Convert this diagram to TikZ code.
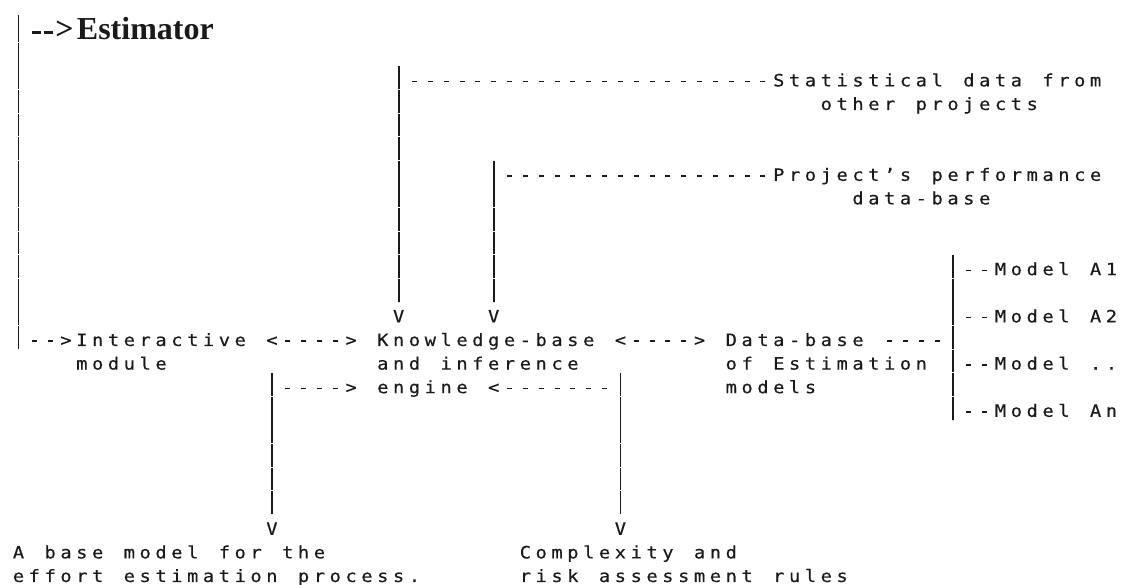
\documentclass[tikz,border=0pt]{standalone}
\usepackage{fontspec}
\usetikzlibrary{calc}
\newfontfamily\monoface{DejaVu Sans Mono}[FakeStretch=1.1,FakeBold=0.35]
\newfontfamily\headface{Liberation Serif}
\definecolor{ink}{HTML}{1A1A1A}
% one character cell of the text grid
\newlength\cw
\setlength\cw{15.84pt}
\ExplSyntaxOn
\NewDocumentCommand\gridtext{m}
  { \str_map_inline:nn {#1} { \makebox[\cw][c]{##1} } }
\ExplSyntaxOff
\NewDocumentCommand\tline{O{0}m}{\hbox{\hskip#1\cw\gridtext{#2}}}
\newcommand\stack[1]{\vtop{\baselineskip=23.6pt\lineskiplimit=-\maxdimen\lineskip=0pt#1}}
\begin{document}
\begin{tikzpicture}[x=15.84pt,y=-23.6pt,
  lbl/.style={anchor=base west,inner sep=0pt,outer sep=0pt,text=ink,
    font=\monoface\fontsize{17pt}{23.6pt}\selectfont},
  glyph/.style={anchor=base,inner sep=0pt,outer sep=0pt,text=ink,
    font=\monoface\fontsize{17pt}{23.6pt}\selectfont},
  headnode/.style={anchor=base west,inner sep=0pt,outer sep=0pt,text=ink,
    font=\headface\bfseries\fontsize{32pt}{32pt}\selectfont},
  pipe/.style={draw=ink,line width=1.7pt,dash pattern=on 22.8pt off 0.8pt},
  dashline/.style={draw=ink,line width=1.6pt,dash pattern=on 5pt off 10.84pt,dash phase=10.42pt},
  boldhyph/.style={draw=ink,line width=2.8pt,dash pattern=on 9pt off 3pt}]
\fill[white] (-1.1679,-14.661) rectangle (69.666,10.127);
\useasboundingbox (-1.1679,-14.661) rectangle (69.666,10.127);

% labels
\node[headnode] (est) at (3.69,-12.966) {Estimator};
\node[headnode] (gE) at ($(est.base west)+(-21.5pt,0)$) {>};
\node[lbl] (int) at (3.5,0) {\stack{\tline{Interactive}\tline{module}}};
\node[lbl] (kb) at (22.5,0) {\stack{\tline{Knowledge-base}\tline{and inference}\tline{engine}}};
\node[lbl] (db) at (44.5,0) {\stack{\tline{Data-base}\tline{of Estimation}\tline{models}}};
\node[lbl] (stat) at (47.5,-11) {\stack{\tline{Statistical data from}\tline[3]{other projects}}};
\node[lbl] (proj) at (47.5,-7) {\stack{\tline{Project’s performance}\tline[5]{data-base}}};
\node[lbl] (mA1) at (61.5,-3) {\gridtext{Model A1}};
\node[lbl] (mA2) at (61.5,-1) {\gridtext{Model A2}};
\node[lbl] (mAx) at (61.5,1) {\gridtext{Model ..}};
\node[lbl] (mAn) at (61.5,3) {\gridtext{Model An}};
\node[lbl] (base) at (-0.5,9) {\stack{\tline{A base model for the}\tline{effort estimation process.}}};
\node[lbl] (cplx) at (31.5,9) {\stack{\tline{Complexity and}\tline{risk assessment rules}}};

% arrow heads
\node[glyph] (gI) at (3,0) {>};
\node[glyph] (l1) at (16,0) {<};
\node[glyph] (r1) at (21,0) {>};
\node[glyph] (l2) at (38,0) {<};
\node[glyph] (r2) at (43,0) {>};
\node[glyph] (vS) at (24,-1) {V};
\node[glyph] (vP) at (30,-1) {V};
\node[glyph] (r3) at (21,2) {>};
\node[glyph] (l3) at (30,2) {<};
\node[glyph] (vB) at (16,8) {V};
\node[glyph] (vC) at (38,8) {V};
\coordinate (trunk) at (0,-14.025);

% trunk from Estimator down to the interactive module
\draw[draw=ink,line width=1.8pt] (trunk) -- ($(est.base west -| trunk)+(0,-2pt)$);
\draw[pipe] ($(est.base west -| trunk)+(0,-2.9pt)$) -- ($(int.base west -| trunk)+(0,-3.7pt)$);
\draw[boldhyph] ($(gE.base west -| trunk)+(13.2pt,7.3pt)$) -- ($(gE.base west)+(-2.3pt,7.3pt)$);
\draw[dashline] ($(gI.base -| trunk)+(7.92pt,4.8pt)$) -- ($(gI.base)+(-7.92pt,4.8pt)$);

% two-way links along the main row
\draw[dashline] ($(l1.base)+(7.92pt,4.8pt)$) -- ($(r1.base)+(-7.92pt,4.8pt)$);
\draw[dashline] ($(l2.base)+(7.92pt,4.8pt)$) -- ($(r2.base)+(-7.92pt,4.8pt)$);

% data sources feeding the knowledge base
\draw[dashline] ($(stat.base west)+(0,4.8pt)$) -- ($(stat.base west -| vS)+(7.92pt,4.8pt)$);
\draw[pipe] ($(stat.base west -| vS)+(0,19.9pt)$) -- ($(vS.base)+(0,19.9pt)$);
\draw[dashline] ($(proj.base west)+(0,4.8pt)$) -- ($(proj.base west -| vP)+(7.92pt,4.8pt)$);
\draw[pipe] ($(proj.base west -| vP)+(0,19.9pt)$) -- ($(vP.base)+(0,19.9pt)$);

% estimation models bus
\draw[dashline] ($(db.base west)+(158.4pt,4.8pt)$) -- ($(mA1.base west |- db.base west)+(-47.52pt,4.8pt)$);
\draw[pipe] ($(mA1.base west)+(-39.6pt,19.9pt)$) -- ($(mAn.base west)+(-39.6pt,-3.7pt)$);
\foreach \m in {mA1,mA2,mAx,mAn}
  \draw[dashline] ($(\m.base west)+(-31.68pt,4.8pt)$) -- ($(\m.base west)+(0,4.8pt)$);

% links below the engine
\draw[dashline] ($(r3.base -| vB)+(7.92pt,4.8pt)$) -- ($(r3.base)+(-7.92pt,4.8pt)$);
\draw[pipe] ($(r3.base -| vB)+(0,19.9pt)$) -- ($(vB.base)+(0,19.9pt)$);
\draw[dashline] ($(l3.base)+(7.92pt,4.8pt)$) -- ($(l3.base -| vC)+(-7.92pt,4.8pt)$);
\draw[pipe] ($(l3.base -| vC)+(0,19.9pt)$) -- ($(vC.base)+(0,19.9pt)$);
\end{tikzpicture}
\end{document}
